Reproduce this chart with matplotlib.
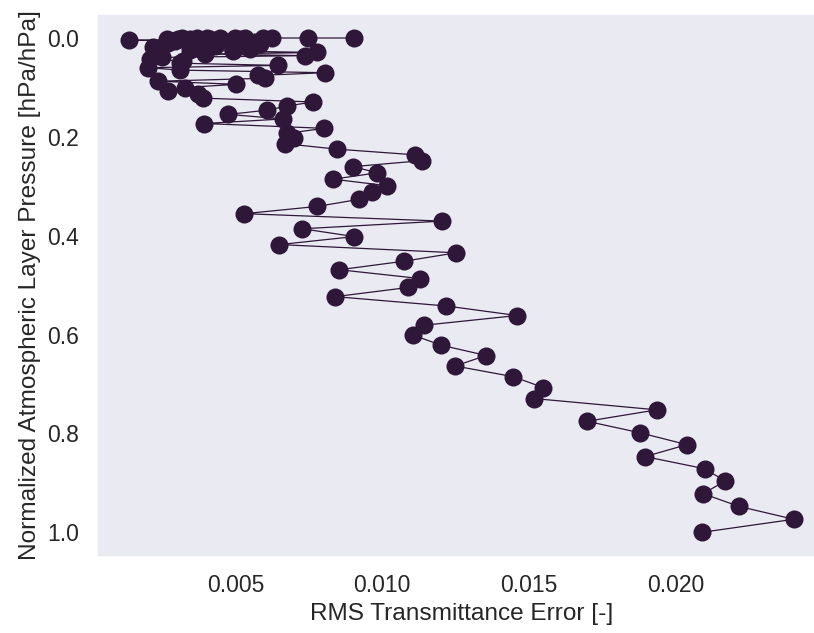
import matplotlib
matplotlib.use("Agg")
import matplotlib.pyplot as plt
import seaborn as sns

# normalized pressure of the 101 layers (top of atmosphere -> surface)
pressure = [
    0.0000, 0.0000, 0.0000, 0.0001, 0.0001, 0.0002, 0.0003, 0.0005, 0.0006, 0.0009,
    0.0012, 0.0015, 0.0020, 0.0025, 0.0030, 0.0037, 0.0045, 0.0053, 0.0063, 0.0074,
    0.0086, 0.0100, 0.0115, 0.0131, 0.0149, 0.0169, 0.0190, 0.0213, 0.0238, 0.0265,
    0.0293, 0.0324, 0.0357, 0.0392, 0.0429, 0.0468, 0.0510, 0.0554, 0.0601, 0.0650,
    0.0702, 0.0757, 0.0814, 0.0874, 0.0937, 0.1002, 0.1071, 0.1142, 0.1217, 0.1294,
    0.1375, 0.1459, 0.1546, 0.1637, 0.1730, 0.1827, 0.1928, 0.2031, 0.2139, 0.2249,
    0.2363, 0.2481, 0.2602, 0.2727, 0.2856, 0.2988, 0.3124, 0.3263, 0.3407, 0.3554,
    0.3704, 0.3859, 0.4017, 0.4179, 0.4345, 0.4515, 0.4688, 0.4866, 0.5047, 0.5232,
    0.5421, 0.5614, 0.5810, 0.6011, 0.6215, 0.6423, 0.6635, 0.6851, 0.7071, 0.7294,
    0.7522, 0.7753, 0.7987, 0.8226, 0.8468, 0.8715, 0.8964, 0.9218, 0.9475, 0.9736,
    1.0000,
]

# RMS transmittance error per layer
rms_error = [
    0.00905, 0.00748, 0.00626, 0.00595, 0.00534, 0.00500, 0.00449, 0.00405, 0.00371, 0.00320,
    0.00306, 0.00269, 0.00347, 0.00415, 0.00517, 0.00381, 0.00139, 0.00296, 0.00432, 0.00568,
    0.00483, 0.00272, 0.00381, 0.00585, 0.00347, 0.00432, 0.00221, 0.00551, 0.00347, 0.00493,
    0.00779, 0.00398, 0.00738, 0.00252, 0.00211, 0.00323, 0.00313, 0.00646, 0.00204, 0.00313,
    0.00806, 0.00578, 0.00602, 0.00238, 0.00503, 0.00327, 0.00272, 0.00374, 0.00391, 0.00765,
    0.00677, 0.00609, 0.00476, 0.00663, 0.00395, 0.00803, 0.00677, 0.00701, 0.00670, 0.00847,
    0.01112, 0.01136, 0.00901, 0.00983, 0.00833, 0.01017, 0.00966, 0.00922, 0.00779, 0.00531,
    0.01204, 0.00728, 0.00905, 0.00650, 0.01252, 0.01075, 0.00854, 0.01129, 0.01088, 0.00840,
    0.01218, 0.01459, 0.01143, 0.01105, 0.01201, 0.01354, 0.01248, 0.01446, 0.01548, 0.01517,
    0.01935, 0.01697, 0.01878, 0.02037, 0.01895, 0.02099, 0.02167, 0.02092, 0.02214, 0.02401,
    0.02088,
]

sns.set_theme(style="dark", context="talk")
plt.rcParams["font.family"] = ["Liberation Sans", "DejaVu Sans"]
plt.rcParams["axes.labelsize"] = 17.6

fig = plt.figure(figsize=(8.14, 6.33), dpi=100)
ax = fig.add_axes([0.118, 0.12, 0.898, 0.859])

ax.plot(rms_error, pressure, "o-", color="#2e1739", markersize=13,
        linewidth=0.9, markeredgewidth=0)
ax.invert_yaxis()
ax.set_xlabel("RMS Transmittance Error [-]")
ax.set_ylabel("Normalized Atmospheric Layer Pressure [hPa/hPa]")
ax.set_xticks([0.005, 0.010, 0.015, 0.020])
ax.set_yticks([0.0, 0.2, 0.4, 0.6, 0.8, 1.0])

fig.savefig("out.png", dpi=100)
